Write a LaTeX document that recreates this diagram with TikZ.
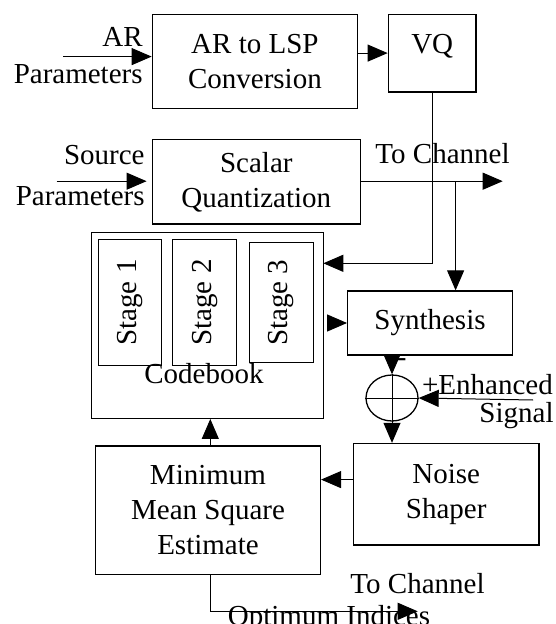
\documentclass[tikz,border=0pt]{standalone}
\usepackage{fontspec}
\setmainfont{Liberation Serif}
\usetikzlibrary{arrows.meta}
\usetikzlibrary{shapes.geometric}
\usetikzlibrary{calc}
\tikzstyle{blk} = [rectangle, draw, line width=0.65pt, inner sep=0pt, align=center]
\tikzstyle{arr} = [-{Triangle[length=10pt,width=8.5pt]}, line width=0.5pt]
\tikzstyle{lbl} = [inner sep=0pt, align=center]

\begin{document}
\begin{tikzpicture}[x=0.5pt,y=-0.5pt,font=\fontsize{14.5}{17.5}\selectfont]
				\useasboundingbox (0,0) rectangle (555,624);
				\node[blk, minimum width=102.6pt, minimum height=47pt] (arlsp) at (254.9,61.3) {AR to LSP\\Conversion};
				\node[blk, minimum width=43.9pt, minimum height=38.9pt, text depth=9pt] (vq) at (432.2,53.1) {VQ};
				\node[blk, minimum width=104.1pt, minimum height=42.1pt] (sq) at (256.3,181.9) {Scalar\\Quantization};
				\node[blk, minimum width=115.8pt, minimum height=92.8pt] (cb) at (207.5,325.5) {};
				\node[blk, rotate=90, minimum width=63.2pt, minimum height=31.7pt] (st1) at (130,302.5) {Stage 1};
				\node[blk, rotate=90, minimum width=63.2pt, minimum height=32pt] (st2) at (204.7,302.5) {Stage 2};
				\node[blk, rotate=90, minimum width=60pt, minimum height=32pt] (st3) at (281.3,302.7) {Stage 3};
				\node[blk, minimum width=82.3pt, minimum height=32pt] (synth) at (430,323) {Synthesis};
				\node[draw, ellipse, line width=0.65pt, inner sep=0pt, minimum width=26pt, minimum height=23pt] (sum) at (392,398) {};
				\node[blk, minimum width=92.9pt, minimum height=50.8pt] (noise) at (446.2,494.3) {Noise\\Shaper};
				\node[blk, minimum width=112.4pt, minimum height=64.1pt] (mmse) at (208,510.1) {Minimum\\Mean Square\\Estimate};
				%%%%%%%%%%%%%%%%%%%%%%%%%%%%%%%%%%
				\node[lbl, align=right, anchor=east] (arlbl) at (143,56) {AR\\[1pt]Parameters};
				\node[lbl, align=right, anchor=east] (srclbl) at (145,176) {Source\\[3pt]Parameters};
				\node[lbl] (ch1lbl) at (442.5,154) {To Channel};
				\node[lbl] (cblbl) at (204,374) {Codebook};
				\node[lbl] (minus) at (401.7,362.7) {-};
				\node[lbl, anchor=west] (enhlbl) at (421.7,385) {+Enhanced};
				\node[lbl] (siglbl) at (516.5,416) {Signal};
				\node[lbl] (ch2lbl) at (417.5,584) {To Channel};
				\node[lbl] (idxlbl) at (329,619) {Optimum Indices};
				%%%%%%%%%%%%%%%%%%%%%%%%%%%%%%%%%%
				\coordinate (arin) at (63,56.6);
				\coordinate (srcin) at (56.6,181.2);
				\coordinate (ch1) at (502.7,181.2);
				\coordinate (tap) at (455.6,181.2);
				\coordinate (cbin) at (323.3,263.3);
				\coordinate (enh) at (533,400);
				\coordinate (nm) at (353.3,479.6);
				\coordinate (ch2) at (417.7,611.3);
				%%%%%%%%%%%%%%%%%%%%%%%%%%%%%%%%%%
				\draw[arr] (arin) -- (arin -| arlsp.west);
				\draw[arr] (arlsp.east |- vq) -- (vq.west);
				\draw[arr, shorten >=2.5pt] (srcin) -- (srcin -| sq.west);
				\draw[arr] (sq.east |- ch1) -- (ch1);
				\draw[arr] (tap) -- (tap |- synth.north);
				\draw[arr] (vq.south) |- (cbin);
				\draw[arr, shorten <=2.5pt] (cb.east |- synth) -- (synth.west);
				\draw[arr] (synth.south -| sum) -- (sum.north);
				\draw (sum.north) -- (sum.south);
				\draw (sum.west) -- (sum.east);
				\draw[arr] (enh) -- (sum.east);
				\draw[arr] (sum.south) -- (sum.south |- noise.north);
				\draw[arr] (nm) -- (nm -| mmse.east);
				\draw[arr] (mmse.north -| 210.3,0) -- (cb.south -| 210.3,0);
				\draw[arr] (mmse.south -| 210.3,0) |- (ch2);
%				\node at (sum) {$+$};
			\end{tikzpicture}
\end{document}
